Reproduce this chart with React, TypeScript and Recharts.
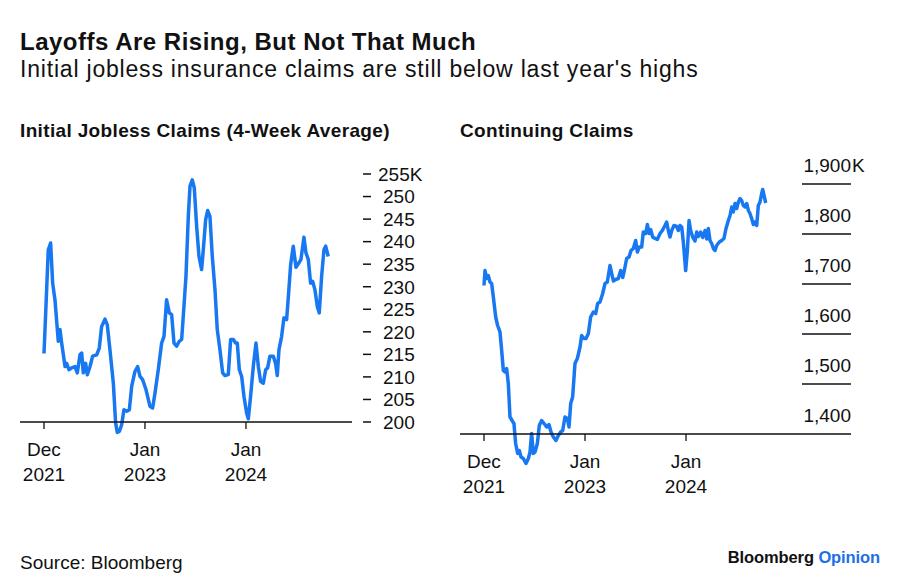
import { LineChart, Line, XAxis, YAxis } from "recharts";

// months since Dec 2021
const initialMonths = [
  0, 0.12, 0.51, 0.79, 1.03, 1.31, 1.7, 1.9, 2.1, 2.5, 2.69, 2.97, 3.29, 3.68, 3.96, 4.28, 4.48, 4.67,
  4.95, 5.15, 5.47, 5.78, 6.26, 6.57, 6.85, 7.25, 7.52, 7.84, 8.24, 8.51, 8.71, 8.95, 9.23, 9.5, 9.82,
  10.14, 10.42, 10.81, 11.13, 11.41, 11.72, 12.12, 12.59, 12.91, 13.19, 13.58, 13.98, 14.26, 14.57,
  14.89, 15.17, 15.45, 15.76, 16.08, 16.36, 16.63, 16.87, 17.15, 17.35, 17.62, 17.86, 18.14, 18.42,
  18.73, 18.93, 19.21, 19.45, 19.72, 20.0, 20.32, 20.59, 20.91, 21.23, 21.5, 21.9, 22.18, 22.5, 22.77,
  22.97, 23.21, 23.49, 23.76, 24.08, 24.28, 24.55, 24.87, 25.19, 25.47, 25.74, 26.06, 26.34, 26.57,
  26.85, 27.25, 27.52, 27.72, 27.92, 28.24, 28.51, 28.83, 29.07, 29.31, 29.62, 29.94, 30.22, 30.53,
  30.89, 31.13, 31.41, 31.68, 31.92, 32.2, 32.48, 32.71, 32.99, 33.27, 33.47, 33.78,
];
const initialClaims = [
  215.2, 220.5, 238.2, 239.7, 230.8, 227, 217.9, 220.5, 217.5, 212.3, 213, 211.6, 212, 212.3, 210.9,
  214.9, 215.3, 210.9, 213, 210.5, 212.3, 214.6, 214.9, 216.4, 221.2, 222.8, 221.6, 216, 208.6, 199.8,
  197.7, 197.9, 199.4, 202.7, 202.4, 202.7, 207.9, 211.2, 212.3, 210.1, 209.4, 207.2, 203.5, 203.1,
  206.4, 211.6, 217.5, 219, 227.1, 224.2, 223.8, 217.5, 216.8, 217.9, 218.3, 225.6, 232.3, 245.6,
  252.3, 253.7, 251.9, 243.4, 236.7, 233.8, 238.2, 244.9, 246.9, 245.6, 236.7, 229.3, 220.5, 216,
  210.9, 210.3, 210.5, 218.3, 218.3, 217.5, 217.5, 211.6, 210.1, 205.7, 202, 200.7, 205.7, 212.3,
  217.5, 212.3, 209, 208.6, 211.6, 212, 214.6, 214.6, 213, 210.3, 216, 219, 223.1, 222.7, 228.6,
  234.9, 239, 234.3, 235.1, 236, 241, 237.5, 236, 230.8, 231.2, 229.3, 225.6, 224.2, 232.3, 238.2,
  239, 236.7,
];

const continuingMonths = [
  0, 0.12, 0.32, 0.51, 0.71, 0.91, 1.11, 1.39, 1.62, 1.9, 2.1, 2.3, 2.5, 2.69, 2.89, 3.09, 3.37, 3.56,
  3.76, 4.0, 4.2, 4.4, 4.67, 4.99, 5.27, 5.47, 5.66, 5.86, 6.06, 6.34, 6.57, 6.85, 7.13, 7.45, 7.72,
  7.96, 8.24, 8.55, 8.83, 9.11, 9.35, 9.62, 9.9, 10.1, 10.3, 10.53, 10.81, 11.09, 11.41, 11.6, 11.88,
  12.12, 12.4, 12.67, 12.99, 13.27, 13.5, 13.78, 14.1, 14.38, 14.65, 14.97, 15.17, 15.37, 15.64,
  15.96, 16.24, 16.48, 16.67, 16.95, 17.23, 17.47, 17.74, 18.02, 18.22, 18.46, 18.73, 18.93, 19.21,
  19.41, 19.6, 19.8, 20.04, 20.32, 20.59, 20.91, 21.19, 21.5, 21.7, 21.9, 22.1, 22.3, 22.57, 22.89,
  23.09, 23.29, 23.49, 23.68, 23.96, 24.16, 24.36, 24.55, 24.79, 25.07, 25.27, 25.47, 25.74, 25.98,
  26.26, 26.46, 26.65, 26.85, 27.05, 27.25, 27.45, 27.64, 27.96, 28.24, 28.51, 28.75, 29.03, 29.23,
  29.43, 29.62, 29.82, 30.02, 30.22, 30.42, 30.61, 30.81, 31.01, 31.21, 31.41, 31.6, 31.8, 32.0,
  32.2, 32.4, 32.59, 32.79, 32.99, 33.11, 33.27, 33.47,
];
const continuingClaims = [
  1697, 1727, 1711, 1717, 1704, 1701, 1674, 1634, 1617, 1604, 1567, 1527, 1524, 1531, 1501, 1434,
  1426, 1421, 1381, 1361, 1367, 1354, 1351, 1341, 1351, 1364, 1401, 1361, 1364, 1381, 1417, 1427,
  1421, 1414, 1419, 1404, 1394, 1387, 1397, 1404, 1407, 1434, 1431, 1414, 1461, 1474, 1541, 1551,
  1574, 1597, 1591, 1591, 1601, 1634, 1644, 1641, 1661, 1664, 1681, 1701, 1704, 1737, 1721, 1706,
  1709, 1711, 1727, 1713, 1727, 1751, 1754, 1767, 1771, 1787, 1764, 1774, 1774, 1804, 1801, 1819,
  1801, 1809, 1794, 1791, 1789, 1801, 1807, 1817, 1824, 1807, 1794, 1807, 1817, 1815, 1807, 1817,
  1814, 1784, 1727, 1767, 1827, 1807, 1794, 1786, 1804, 1795, 1804, 1793, 1807, 1790, 1811, 1787,
  1781, 1771, 1767, 1777, 1784, 1787, 1791, 1811, 1827, 1837, 1854, 1844, 1861, 1851, 1864, 1871,
  1867, 1857, 1854, 1861, 1847, 1841, 1831, 1819, 1824, 1817, 1857, 1864, 1881, 1889, 1877, 1862,
];

const monthTicks = [0, 12, 24];
const monthLabels = [
  ["Dec", "2021"],
  ["Jan", "2023"],
  ["Jan", "2024"],
];
const initialTicks = [200, 205, 210, 215, 220, 225, 230, 235, 240, 245, 250, 255];
const continuingTicks = [1400, 1500, 1600, 1700, 1800, 1900];

const BLUE = "#1878f2";
const INK = "#111";
const FONT = "'Liberation Sans', Arial, sans-serif";

const initialData = initialMonths.map((m, i) => ({ m, v: initialClaims[i] }));
const continuingData = continuingMonths.map((m, i) => ({ m, v: continuingClaims[i] }));

const MonthTick = ({ x, y, payload }: any) => {
  const label = monthLabels[monthTicks.indexOf(payload.value)] ?? ["", ""];
  return (
    <g>
      <line x1={x} x2={x} y1={y} y2={y + 7} stroke={INK} strokeWidth={1.3} />
      <text x={x} y={y + 34} textAnchor="middle" fontSize={19} fill={INK} fontFamily={FONT}>
        {label[0]}
      </text>
      <text x={x} y={y + 59} textAnchor="middle" fontSize={19} fill={INK} fontFamily={FONT}>
        {label[1]}
      </text>
    </g>
  );
};

const InitialTick = ({ x, y, payload }: any) => {
  const top = payload.value === 255;
  return (
    <g>
      <line x1={x + 11} x2={x + 19} y1={y} y2={y} stroke={INK} strokeWidth={1.5} />
      <text x={x + (top ? 26 : 31)} y={y} dy="0.36em" fontSize={19} fill={INK} fontFamily={FONT}>
        {top ? `${payload.value}K` : payload.value}
      </text>
    </g>
  );
};

const ContinuingTick = ({ x, y, payload }: any) => {
  const v = payload.value;
  return (
    <g>
      {v !== 1400 && <line x1={x - 49} x2={x} y1={y} y2={y} stroke={INK} strokeWidth={1.5} />}
      <text x={x} y={y - 12} textAnchor="end" fontSize={19} fill={INK} fontFamily={FONT}>
        {v.toLocaleString("en-US")}
      </text>
      {v === 1900 && (
        <text x={x + 1} y={y - 12} fontSize={19} fill={INK} fontFamily={FONT}>
          K
        </text>
      )}
    </g>
  );
};

const text = (top: number, left: number, size: number, bold = false, spacing = 0): React.CSSProperties => ({
  position: "absolute",
  top,
  left,
  fontSize: size,
  lineHeight: `${size}px`,
  fontWeight: bold ? 700 : 400,
  letterSpacing: spacing,
  color: INK,
  whiteSpace: "nowrap",
});

const App = () => {
  return (
    <div
      style={{
        position: "absolute",
        left: 0,
        top: 0,
        width: 900,
        height: 588,
        background: "#fff",
        fontFamily: FONT,
        overflow: "hidden",
      }}
    >
      <style>{`.recharts-line-curve { clip-path: none !important; }`}</style>
      <div style={text(30, 20, 24, true, 0.5)}>Layoffs Are Rising, But Not That Much</div>
      <div style={text(57.5, 20, 23, false, 0.8)}>
        Initial jobless insurance claims are still below last year's highs
      </div>
      <div style={text(121, 20, 19, true, 0.35)}>Initial Jobless Claims (4-Week Average)</div>
      <div style={text(121, 460, 19, true, 0.35)}>Continuing Claims</div>

      <div style={{ position: "absolute", left: 0, top: 150 }}>
        <LineChart width={440} height={360} data={initialData} margin={{ top: 24, right: 0, bottom: 28, left: 20 }}>
          <XAxis
            type="number"
            dataKey="m"
            domain={[-2.85, 36.6]}
            ticks={monthTicks}
            interval={0}
            height={60}
            tickSize={0}
            tickMargin={0}
            axisLine={{ stroke: INK, strokeWidth: 1.3 }}
            tickLine={false}
            tick={<MonthTick />}
          />
          <YAxis
            orientation="right"
            domain={[200, 255]}
            allowDataOverflow
            ticks={initialTicks}
            interval={0}
            width={88}
            tickSize={0}
            tickMargin={0}
            axisLine={false}
            tickLine={false}
            tick={<InitialTick />}
          />
          <Line
            type="linear"
            dataKey="v"
            stroke={BLUE}
            strokeWidth={3.5}
            strokeLinejoin="round"
            dot={false}
            isAnimationActive={false}
          />
        </LineChart>
      </div>

      <div style={{ position: "absolute", left: 440, top: 150 }}>
        <LineChart width={460} height={360} data={continuingData} margin={{ top: 34, right: 0, bottom: 16, left: 20 }}>
          <XAxis
            type="number"
            dataKey="m"
            domain={[-2.85, 43.6]}
            ticks={monthTicks}
            interval={0}
            height={60}
            tickSize={0}
            tickMargin={0}
            axisLine={{ stroke: INK, strokeWidth: 1.3 }}
            tickLine={false}
            tick={<MonthTick />}
          />
          <YAxis
            orientation="right"
            domain={[1400, 1900]}
            allowDataOverflow
            ticks={continuingTicks}
            interval={0}
            width={49}
            tickSize={0}
            tickMargin={0}
            axisLine={false}
            tickLine={false}
            tick={<ContinuingTick />}
          />
          <Line
            type="linear"
            dataKey="v"
            stroke={BLUE}
            strokeWidth={3.5}
            strokeLinejoin="round"
            dot={false}
            isAnimationActive={false}
          />
        </LineChart>
      </div>

      <div style={text(553, 20, 19)}>Source: Bloomberg</div>
      <div style={{ ...text(549, 0, 16.5, true), left: "auto", right: 20, letterSpacing: -0.1 }}>
        Bloomberg <span style={{ color: "#1c6fe6" }}>Opinion</span>
      </div>
    </div>
  );
};

export default App;
